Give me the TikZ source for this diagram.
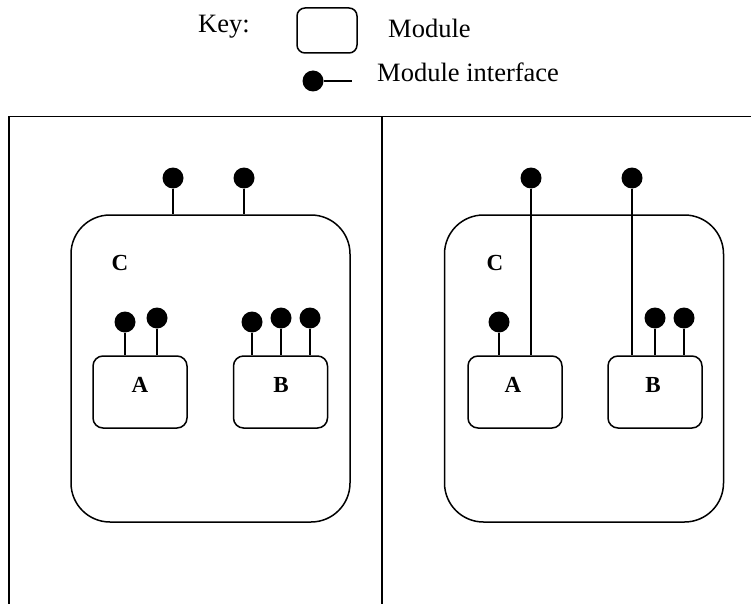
\documentclass[tikz,border=0pt]{standalone}
\usepackage{fontspec}
\setmainfont{Liberation Serif}
\begin{document}
\begin{tikzpicture}[x=1pt,y=-1pt,
  ln/.style={line width=1.5pt},
  big/.style={draw,ln,rounded corners=39pt,minimum width=279pt,minimum height=307pt,inner sep=0pt},
  small/.style={draw,ln,rounded corners=10pt,minimum width=94pt,minimum height=72pt,inner sep=0pt},
  pin/.style={circle,fill=black,minimum size=21pt,inner sep=0pt},
  lbl/.style={font=\fontsize{23}{27}\selectfont\bfseries,inner sep=0pt},
  txt/.style={font=\fontsize{26.5}{31}\selectfont,inner sep=0pt,anchor=base west}]
\useasboundingbox (0,0) rectangle (751,604);
% key
\node[txt] (key) at (198,33) {Key:};
\node[draw,ln,rounded corners=8pt,minimum width=60pt,minimum height=45pt,inner sep=0pt] (keybox) at (327,30.5) {};
\node[txt] (keymod) at (388,38) {Module};
\node[pin] (keypin) at (313,81) {};
\coordinate (keyend) at (352,81);
\draw[ln] (keypin) -- (keyend);
\node[txt] (keyif) at (377,82) {Module interface};
% frame
\coordinate (f1) at (9,604);
\coordinate (f2) at (9,116.5);
\coordinate (f3) at (751,116.5);
\coordinate (m1) at (382,116.5);
\coordinate (m2) at (382,604);
\draw[ln] (f1) -- (f2) -- (f3);
\draw[ln] (m1) -- (m2);
% left panel
\node[big] (LC) at (210.5,368.5) {};
\node[lbl] (LCl) at (120,263) {C};
\node[small] (LA) at (140,392) {};
\node[lbl] (LAl) at (140,385) {A};
\node[small] (LB) at (280.5,392) {};
\node[lbl] (LBl) at (281,385) {B};
\node[pin] (lp1) at (173,178) {};
\node[pin] (lp2) at (244,178) {};
\draw[ln] (lp1) -- (lp1 |- LC.north);
\draw[ln] (lp2) -- (lp2 |- LC.north);
\node[pin] (la1) at (125,322) {};
\node[pin] (la2) at (157,318) {};
\draw[ln] (la1) -- (la1 |- LA.north);
\draw[ln] (la2) -- (la2 |- LA.north);
\node[pin] (lb1) at (252,322) {};
\node[pin] (lb2) at (281,318) {};
\node[pin] (lb3) at (310,318) {};
\draw[ln] (lb1) -- (lb1 |- LB.north);
\draw[ln] (lb2) -- (lb2 |- LB.north);
\draw[ln] (lb3) -- (lb3 |- LB.north);
% right panel
\node[big] (RC) at (584,368.5) {};
\node[lbl] (RCl) at (495,263) {C};
\node[small] (RA) at (515,392) {};
\node[lbl] (RAl) at (513,385) {A};
\node[small] (RB) at (655,392) {};
\node[lbl] (RBl) at (653,385) {B};
\node[pin] (rp1) at (531,178) {};
\node[pin] (rp2) at (632,178) {};
\draw[ln] (rp1) -- (rp1 |- RA.north);
\draw[ln] (rp2) -- (rp2 |- RB.north);
\node[pin] (ra1) at (499,322) {};
\draw[ln] (ra1) -- (ra1 |- RA.north);
\node[pin] (rb1) at (655,318) {};
\node[pin] (rb2) at (684,318) {};
\draw[ln] (rb1) -- (rb1 |- RB.north);
\draw[ln] (rb2) -- (rb2 |- RB.north);
\end{tikzpicture}
\end{document}
